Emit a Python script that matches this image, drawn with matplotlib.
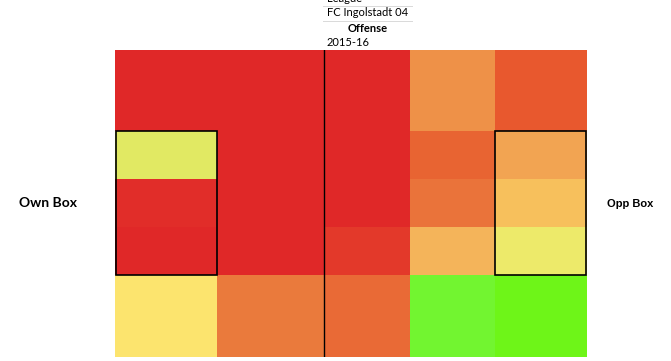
import matplotlib
matplotlib.use("Agg")
import matplotlib.pyplot as plt
import numpy as np
from matplotlib.colors import LinearSegmentedColormap
from matplotlib.patches import Rectangle

# zone boundaries across the pitch (0-100 scale, own goal on the left)
x_edges = [0, 21.6, 44.3, 62.5, 80.5, 100]
y_edges = [0, 26.4, 42.0, 57.7, 73.3, 100]

# zone scores, rows top to bottom, columns left to right
zone_values = [
    [0.00, 0.00, 0.00, 0.40, 0.20],
    [0.75, 0.00, 0.00, 0.25, 0.45],
    [0.03, 0.00, 0.00, 0.32, 0.55],
    [0.00, 0.00, 0.10, 0.50, 0.70],
    [0.60, 0.35, 0.30, 0.90, 1.00],
]

header = ["League", "FC Ingolstadt 04", "Offense", "2015-16"]
left_label = "Own Box"
right_label = "Opp Box"

cmap = LinearSegmentedColormap.from_list("zones", [
    (0.00, "#E02828"), (0.10, "#E3392A"), (0.20, "#E8582E"),
    (0.25, "#E86432"), (0.30, "#E96A36"), (0.32, "#EA743A"),
    (0.35, "#EA7A3C"), (0.40, "#EE9148"), (0.45, "#F2A452"),
    (0.50, "#F4B45A"), (0.55, "#F7C05C"), (0.60, "#FCE46E"),
    (0.70, "#EDEA6A"), (0.75, "#E3E964"), (0.90, "#72F530"),
    (1.00, "#6EF518"),
])

fig = plt.figure(figsize=(6.71, 3.61), dpi=100)
ax = fig.add_axes([115 / 671, 1 - 357 / 361, 472 / 671, 307 / 361])
ax.pcolormesh(x_edges, y_edges, np.array(zone_values), cmap=cmap,
              vmin=0, vmax=1, shading="flat")
ax.set_xlim(0, 100)
ax.set_ylim(100, 0)
ax.axis("off")

# penalty boxes and halfway line
lw = 1.2
ax.add_patch(Rectangle((x_edges[0] + 0.2, y_edges[1]), x_edges[1] - x_edges[0] - 0.2,
                       y_edges[4] - y_edges[1], fill=False, ec="black", lw=lw))
ax.add_patch(Rectangle((x_edges[4], y_edges[1]), x_edges[5] - x_edges[4] - 0.3,
                       y_edges[4] - y_edges[1], fill=False, ec="black", lw=lw))
ax.plot([x_edges[2], x_edges[2]], [0, 100], color="black", lw=1.0)

# header block (top line is cut by the image edge, as in the original)
fam = ["Lato", "DejaVu Sans"]
fig.text(327 / 671, 1 - (-1) / 361, header[0], fontsize=8, family=fam, va="center", ha="left")
fig.text(327 / 671, 1 - 13 / 361, header[1], fontsize=8, family=fam, va="center", ha="left")
fig.text(368 / 671, 1 - 28 / 361, header[2], fontsize=8, family=fam, va="center", ha="center",
         fontweight="bold")
fig.text(327 / 671, 1 - 42 / 361, header[3], fontsize=8, family=fam, va="center", ha="left")
for yy in (6, 21):
    fig.add_artist(plt.Line2D([323 / 671, 412 / 671], [1 - yy / 361, 1 - yy / 361],
                              color="#D9D9D9", lw=0.7))

fig.text(48 / 671, 1 - 203 / 361, left_label, fontsize=10, family=fam, fontweight="bold",
         va="center", ha="center")
fig.text(630 / 671, 1 - 204 / 361, right_label, fontsize=8, family=["Liberation Sans"],
         fontweight="bold", va="center", ha="center")

fig.savefig("out.png", dpi=100)
